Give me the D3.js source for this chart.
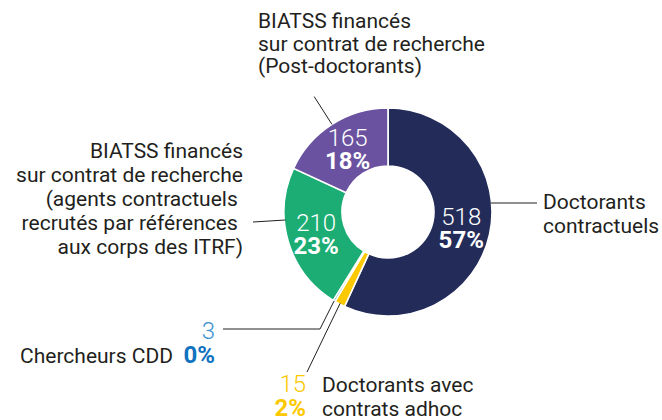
<!DOCTYPE html>
<html>
<head>
<meta charset="utf-8">
<script src="https://cdn.jsdelivr.net/npm/d3@7"></script>
<style>
  body { margin: 0; background: #fff; }
  svg text { font-family: Roboto, "Open Sans", sans-serif; }
</style>
</head>
<body>
<svg id="donut" width="662" height="420"></svg>
<script>
// data, clockwise from 12 o'clock
var categories = ['Doctorants contractuels', 'Doctorants avec contrats adhoc', 'Chercheurs CDD',
                  'BIATSS (agents contractuels ITRF)', 'BIATSS (Post-doctorants)'];
var values = [518, 15, 3, 210, 165];
var colors = ['#232c59', '#fcc800', '#1b75bb', '#1bad74', '#6a52a0'];
var valueColors = ['#fff', '#fcc800', '#3b8fd3', '#fff', '#fff'];
var pctColors = ['#fff', '#fcc800', '#1172c0', '#fff', '#fff'];

var labelLines = [
  ['Doctorants', 'contractuels'],
  ['Doctorants avec', 'contrats adhoc'],
  ['Chercheurs CDD'],
  ['BIATSS financés', 'sur contrat de recherche', '(agents contractuels\u00a0', 'recrutés par références\u00a0', 'aux corps des ITRF)'],
  ['BIATSS financés', 'sur contrat de recherche', '(Post-doctorants)']
];

var drawChart = (function(d3) {

  var svg = d3.select('#donut'),
      cx = 388, cy = 212,
      outerR = 104, innerR = 46,
      textColor = '#231f20',
      chart = svg.append('g').attr('transform', 'translate(' + cx + ',' + cy + ')');

  var total = d3.sum(values);
  var pct = function(v) { return Math.round(v / total * 100) + '%'; };

  var pie = d3.pie().sort(null).value(function(d) { return d; });
  var arc = d3.arc().innerRadius(innerR).outerRadius(outerR);
  var labelArc = d3.arc().innerRadius(75).outerRadius(75);
  var arcs = pie(values);

  chart.selectAll('path')
      .data(arcs)
    .enter().append('path')
      .attr('d', arc)
      .attr('fill', function(d, i) { return colors[i]; })
      .attr('stroke', '#fff')
      .attr('stroke-width', 1.6);

  // inside labels for the big slices
  [0, 3, 4].forEach(function(i) {
    var c = labelArc.centroid(arcs[i]);
    chart.append('text')
      .attr('x', c[0]).attr('y', c[1] - 3)
      .attr('text-anchor', 'middle')
      .attr('fill', '#fff').attr('font-size', 24).attr('font-weight', 300)
      .text(values[i]);
    chart.append('text')
      .attr('x', c[0]).attr('y', c[1] + 20)
      .attr('text-anchor', 'middle')
      .attr('fill', '#fff').attr('font-size', 24).attr('font-weight', 700)
      .text(pct(values[i]));
  });

  function onArc(angle, r) {
    return [cx + r * Math.sin(angle), cy - r * Math.cos(angle)];
  }
  function mid(d) { return (d.startAngle + d.endAngle) / 2; }
  var line = d3.line();

  function leader(points) {
    svg.append('path')
      .attr('d', line(points))
      .attr('fill', 'none')
      .attr('stroke', textColor)
      .attr('stroke-width', 1);
  }

  function lines(x, y0, step, arr, anchor) {
    var t = svg.append('text')
      .attr('text-anchor', anchor)
      .attr('fill', textColor)
      .attr('font-size', 21);
    arr.forEach(function(s, k) {
      t.append('tspan').attr('x', x).attr('y', y0 + k * step).text(s);
    });
  }

  // Doctorants contractuels
  leader([[cx + Math.sqrt(outerR * outerR - 81) - 1, 203], [537, 203]]);
  lines(543, 209, 23.5, labelLines[0], 'start');

  // BIATSS post-doctorants
  leader([onArc(mid(arcs[4]), outerR), onArc(mid(arcs[4]), 137)]);
  lines(258, 28, 22.5, labelLines[4], 'start');

  // BIATSS agents contractuels
  leader([[cx - Math.sqrt(outerR * outerR - 64) + 1, 220], [253, 222]]);
  lines(243, 158, 24, labelLines[3], 'end');

  // Chercheurs CDD
  leader([onArc(mid(arcs[2]), outerR), [320, 329], [223, 329]]);
  svg.append('text')
    .attr('x', 215).attr('y', 339).attr('text-anchor', 'end')
    .attr('fill', valueColors[2]).attr('font-size', 24).attr('font-weight', 300)
    .text(values[2]);
  svg.append('text')
    .attr('x', 215).attr('y', 363).attr('text-anchor', 'end')
    .attr('fill', pctColors[2]).attr('font-size', 24).attr('font-weight', 700)
    .text(pct(values[2]));
  lines(173, 363, 24, labelLines[2], 'end');

  // Doctorants avec contrats adhoc
  leader([onArc(mid(arcs[1]), outerR - 1), [307, 372]]);
  svg.append('text')
    .attr('x', 306).attr('y', 392).attr('text-anchor', 'end')
    .attr('fill', valueColors[1]).attr('font-size', 24).attr('font-weight', 300)
    .text(values[1]);
  svg.append('text')
    .attr('x', 306).attr('y', 416).attr('text-anchor', 'end')
    .attr('fill', pctColors[1]).attr('font-size', 24).attr('font-weight', 700)
    .text(pct(values[1]));
  lines(322, 392, 24, labelLines[1], 'start');

})(d3);
</script>
</body>
</html>
